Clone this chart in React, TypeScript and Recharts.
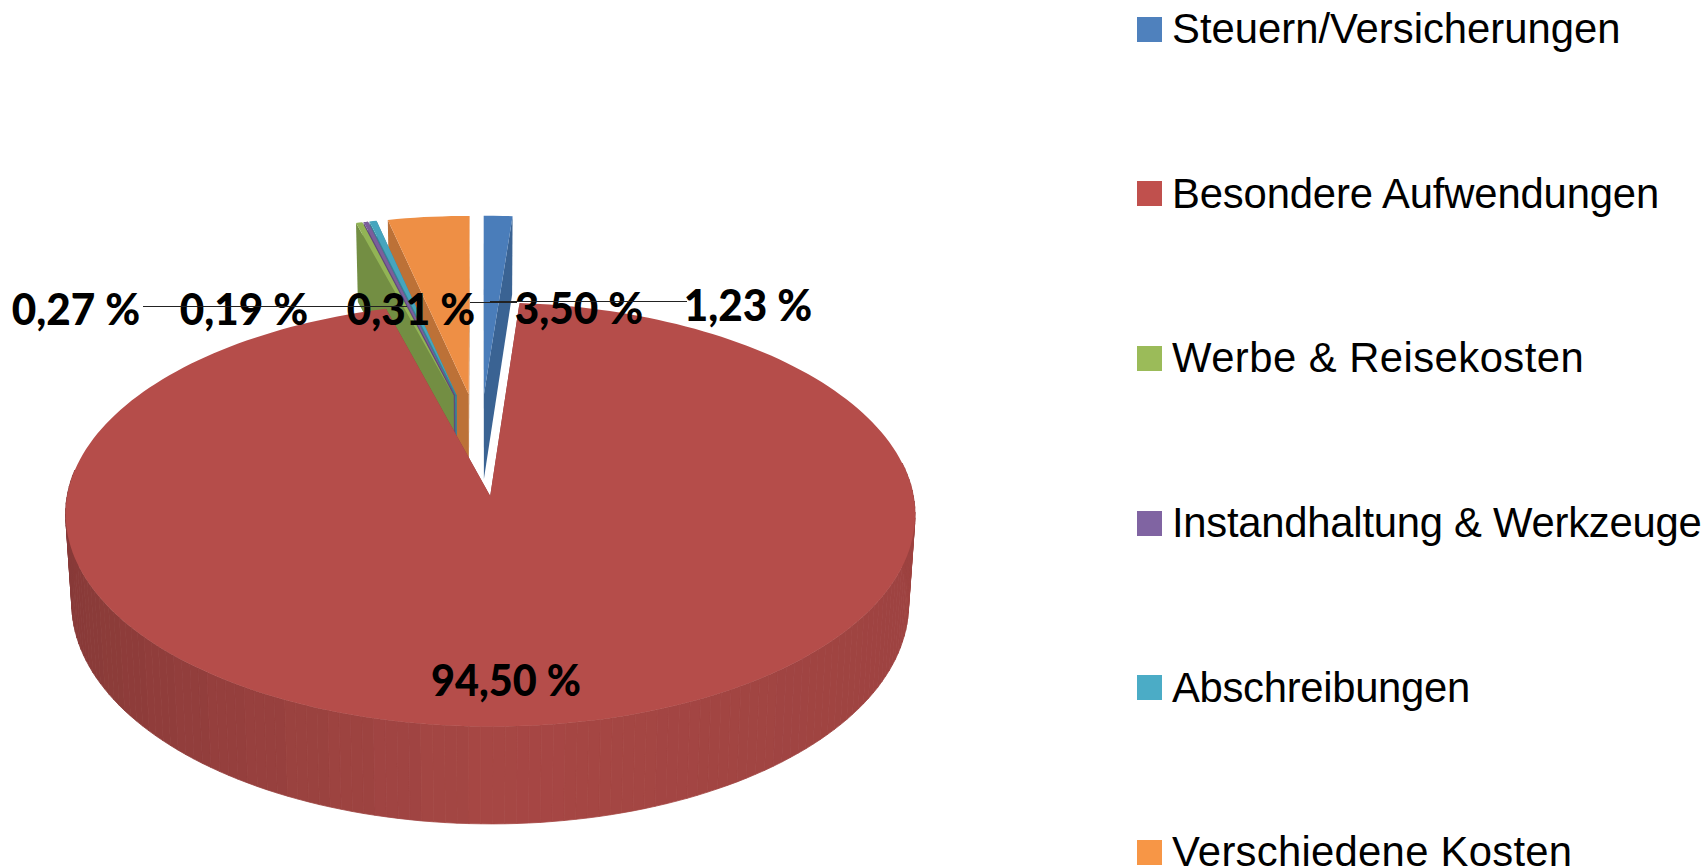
import React from 'react';
import { PieChart, Pie, Legend } from 'recharts';

const categories = [
  'Steuern/Versicherungen',
  'Besondere Aufwendungen',
  'Werbe & Reisekosten',
  'Instandhaltung & Werkzeuge',
  'Abschreibungen',
  'Verschiedene Kosten',
];
const shares = [1.23, 94.5, 0.27, 0.19, 0.31, 3.5];
const legendColors = ['#4F81BD', '#C0504D', '#9BBB59', '#8064A2', '#4BACC6', '#F79646'];
const sliceColors = ['#4A7DBA', '#B54D4A', '#92B455', '#7A5F9B', '#46A5BE', '#EE8F45'];
const legendTracking = [0, -0.15, 0.46, -0.25, -0.3, 0.28];

// painted back to front, so the table runs the other way round and the angles go counter-clockwise
const rows = categories
  .map((name, i) => ({ name, value: shares[i], fill: sliceColors[i] }))
  .reverse();

const labelSpots: Record<string, { x: number; y: number; line?: number[] }> = {
  'Werbe & Reisekosten': { x: 76, y: 308, line: [143, 360, 306.5] },
  'Instandhaltung & Werkzeuge': { x: 244, y: 308, line: [312, 407, 306.5] },
  Abschreibungen: { x: 411, y: 308 },
  'Verschiedene Kosten': { x: 579, y: 307, line: [470, 517, 302.5] },
  'Steuern/Versicherungen': { x: 748, y: 304, line: [490, 687, 301.5] },
  'Besondere Aufwendungen': { x: 506, y: 679 },
};

const RADIUS = 414;
const TILT = 201.5;
const PERSPECTIVE = 0.085;
const EXPLODE = 0.254 * RADIUS;
const DEPTH = 87;
const SHRINK = 0.985;
const RAD = Math.PI / 180;

const tint = (hex: string, k: number) => {
  const n = parseInt(hex.slice(1), 16);
  const c = [(n >> 16) & 255, (n >> 8) & 255, n & 255].map((v) => Math.round(v * k));
  return `rgb(${c[0]},${c[1]},${c[2]})`;
};

const Slice3D = (props: any) => {
  const { cx, cy, startAngle, endAngle, fill } = props;
  const mid = ((startAngle + endAngle) / 2) * RAD;
  const ox = EXPLODE * Math.cos(mid);
  const oz = -EXPLODE * Math.sin(mid);

  const top = (X: number, Z: number) => {
    const f = 1 / (1 - (PERSPECTIVE * Z) / RADIUS);
    return { x: cx + X * f, y: cy + TILT * (Z / RADIUS) * f, f };
  };
  const bottom = (p: { x: number; y: number; f: number }) => ({
    x: cx + (p.x - cx) * SHRINK,
    y: p.y + DEPTH * p.f,
  });
  const poly = (pts: { x: number; y: number }[]) =>
    pts.map((p) => `${p.x.toFixed(1)},${p.y.toFixed(1)}`).join(' ');

  const steps = Math.max(2, Math.ceil((endAngle - startAngle) / 1.5));
  const angles = Array.from({ length: steps + 1 }, (_, i) => startAngle + ((endAngle - startAngle) * i) / steps);
  const rim = angles.map((a) =>
    top(ox + RADIUS * Math.cos(a * RAD), oz - RADIUS * Math.sin(a * RAD))
  );
  const apex = top(ox, oz);

  const quads = [];
  for (let i = 0; i < steps; i++) {
    const a = angles[i - (i % 4)] + 3;
    if (Math.sin(angles[i] * RAD) > 0.15) continue;
    const t = Math.cos(a * RAD);
    const shade = t < 0 ? 0.92 + 0.17 * t : 0.92 - 0.05 * t;
    quads.push(
      <polygon
        key={i}
        points={poly([rim[i], rim[i + 1], bottom(rim[i + 1]), bottom(rim[i])])}
        fill={tint(fill, shade)}
        stroke={tint(fill, shade)}
        strokeWidth={0.8}
      />
    );
  }

  const cut = (p: any, key: string) => (
    <polygon key={key} points={poly([apex, p, bottom(p), bottom(apex)])} fill={tint(fill, 0.79)} />
  );

  return (
    <g>
      {cut(rim[0], 'a')}
      {cut(rim[steps], 'b')}
      {quads}
      <polygon points={poly([apex, ...rim])} fill={fill} />
    </g>
  );
};

const renderLabel = (props: any) => {
  const row = rows[props.index];
  const spot = labelSpots[row.name];
  const text = row.value.toFixed(2).replace('.', ',') + ' %';
  return (
    <g key={row.name}>
      {spot.line && (
        <line x1={spot.line[0]} x2={spot.line[1]} y1={spot.line[2]} y2={spot.line[2]} stroke="#222" strokeWidth={1} />
      )}
      <text
        x={spot.x}
        y={spot.y}
        textAnchor="middle"
        dominantBaseline="central"
        fontFamily="Lato"
        fontWeight={900}
        fontSize={44}
        textLength={text.length * 21.4}
        lengthAdjust="spacingAndGlyphs"
        fill="#000"
      >
        {text}
      </text>
    </g>
  );
};

const LegendList = () => (
  <div style={{ fontFamily: '"Liberation Sans"', fontSize: 41.8, color: '#000' }}>
    {categories.map((name, i) => (
      <div key={name} style={{ display: 'flex', alignItems: 'center', height: 164.6 }}>
        <span style={{ width: 25, height: 25, background: legendColors[i], marginRight: 10, flex: 'none' }} />
        <span style={{ whiteSpace: 'nowrap', letterSpacing: legendTracking[i] }}>{name}</span>
      </div>
    ))}
  </div>
);

export default function App() {
  return (
    <div style={{ position: 'absolute', left: 0, top: 0, width: 1707, height: 868, overflow: 'hidden', background: '#fff' }}>
      <PieChart width={1707} height={868} margin={{ top: 0, right: 0, bottom: 0, left: 0 }}>
        <Pie
          data={rows}
          dataKey="value"
          nameKey="name"
          cx={480}
          cy={444}
          outerRadius={RADIUS}
          startAngle={90}
          endAngle={450}
          paddingAngle={0}
          stroke="none"
          shape={(p: any) => <Slice3D {...p} />}
          label={renderLabel}
          labelLine={false}
          isAnimationActive={false}
        />
        <Legend
          layout="vertical"
          align="right"
          verticalAlign="top"
          content={<LegendList />}
          wrapperStyle={{ position: 'absolute', left: 1137, top: -53, width: 570 }}
        />
      </PieChart>
    </div>
  );
}
